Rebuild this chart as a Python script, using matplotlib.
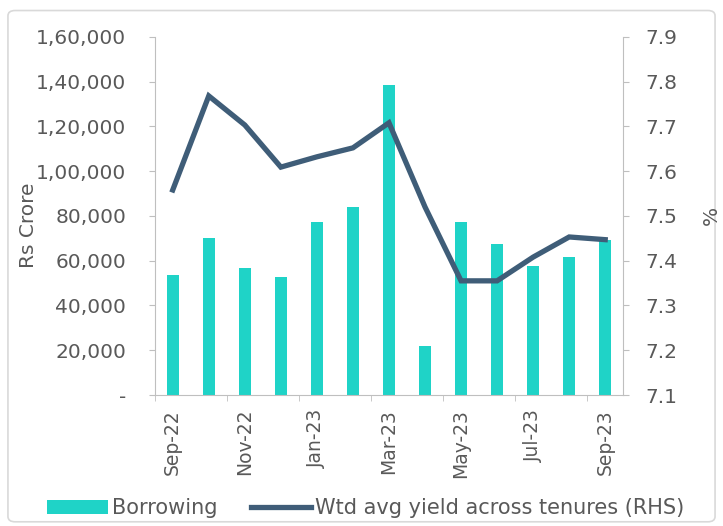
import matplotlib
matplotlib.use("Agg")
import matplotlib.pyplot as plt
from matplotlib.patches import FancyBboxPatch
from matplotlib.ticker import FuncFormatter, FixedLocator

months = ["Sep-22", "Oct-22", "Nov-22", "Dec-22", "Jan-23", "Feb-23", "Mar-23",
          "Apr-23", "May-23", "Jun-23", "Jul-23", "Aug-23", "Sep-23"]
borrowing = [53500, 70200, 56800, 52800, 77300, 84000, 138500,
             21900, 77300, 67500, 57700, 61700, 69300]
yield_pct = [7.558, 7.768, 7.703, 7.609, 7.632, 7.652, 7.708,
             7.520, 7.355, 7.355, 7.408, 7.453, 7.447]

BAR = "#1fd3c7"
LINE = "#3f5d78"
TXT = "#595959"
AX = "#bfbfbf"

plt.rcParams["font.family"] = "DejaVu Sans"

fig = plt.figure(figsize=(7.23, 5.26), dpi=100)
fig.patches.append(FancyBboxPatch((0.011, 0.008), 0.978, 0.972,
                                  boxstyle="round,pad=0,rounding_size=0.01",
                                  transform=fig.transFigure, facecolor="none",
                                  edgecolor="#d9d9d9", linewidth=1.2))

ax = fig.add_axes([0.214, 0.249, 0.648, 0.681])
x = list(range(len(months)))
bars = ax.bar(x, borrowing, width=0.33, color=BAR, label="Borrowing", zorder=2)
ax.set_xlim(-0.5, len(months) - 0.5)
ax.set_ylim(0, 160000)
ax.set_yticks(range(0, 160001, 20000))


def indian(v, pos):
    # lakh-style grouping: 1,60,000
    if v == 0:
        return "-"
    s = f"{int(v):d}"
    head, tail = s[:-3], s[-3:]
    parts = []
    while len(head) > 2:
        parts.insert(0, head[-2:])
        head = head[:-2]
    if head:
        parts.insert(0, head)
    return ",".join(parts + [tail])


ax.yaxis.set_major_formatter(FuncFormatter(indian))
ax.set_xticks(x[::2])
ax.set_xticklabels(months[::2], rotation=90)
ax.xaxis.set_minor_locator(FixedLocator([i - 0.5 for i in range(0, 14, 2)]))
ax.tick_params(axis="x", which="major", length=0, pad=10, labelsize=13.5, colors=TXT)
ax.tick_params(axis="x", which="minor", length=4, color=AX, direction="out")
ax.tick_params(axis="y", length=4, color=AX, labelsize=14.5, labelcolor=TXT, pad=16.5)
for s in ["top", "right"]:
    ax.spines[s].set_visible(False)
ax.spines["left"].set_color(AX)
ax.spines["bottom"].set_color(AX)

ax2 = ax.twinx()
line, = ax2.plot(x, yield_pct, color=LINE, linewidth=3.8, solid_joinstyle="miter",
                 label="Wtd avg yield across tenures (RHS)", zorder=3)
ax2.set_ylim(7.1, 7.9)
ax2.set_yticks([7.1 + 0.1 * i for i in range(9)])
ax2.yaxis.set_major_formatter(FuncFormatter(lambda v, p: f"{v:.1f}"))
ax2.tick_params(axis="y", length=4, color=AX, labelsize=14.5, labelcolor=TXT, pad=12)
for s in ["top", "left", "bottom"]:
    ax2.spines[s].set_visible(False)
ax2.spines["right"].set_color(AX)

fig.text(28 / 723, 1 - 225 / 526, "Rs Crore", rotation=90, ha="center", va="center",
         fontsize=14.5, color=TXT)
fig.text(711 / 723, 1 - 215 / 526, "%", rotation=90, ha="center", va="center",
         fontsize=14.5, color=TXT)

fig.legend(handles=[bars, line], loc="center", bbox_to_anchor=(0.506, 0.034),
           ncol=2, frameon=False, fontsize=15, labelcolor=TXT,
           handlelength=2.9, handletextpad=0.2, columnspacing=1.6)

fig.savefig("out.png", dpi=100)
